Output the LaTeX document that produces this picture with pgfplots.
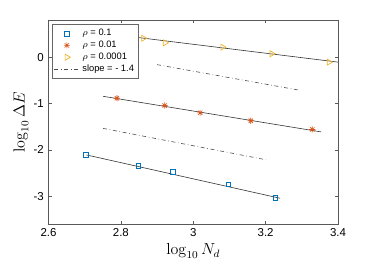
\documentclass[border=0pt]{standalone}
\usepackage{pgfplots}
\pgfplotsset{compat=1.18}
\usepackage[no-math]{fontspec}
\setmainfont{Liberation Sans}
\definecolor{mblue}{rgb}{0,0.447,0.741}
\definecolor{mred}{rgb}{0.85,0.325,0.098}
\definecolor{myel}{rgb}{0.929,0.694,0.125}
\pgfdeclareplotmark{mstar}{%
  \pgfpathmoveto{\pgfqpoint{-\pgfplotmarksize}{0pt}}\pgfpathlineto{\pgfqpoint{\pgfplotmarksize}{0pt}}%
  \pgfpathmoveto{\pgfqpoint{0pt}{-\pgfplotmarksize}}\pgfpathlineto{\pgfqpoint{0pt}{\pgfplotmarksize}}%
  \pgfpathmoveto{\pgfqpoint{-0.707\pgfplotmarksize}{-0.707\pgfplotmarksize}}\pgfpathlineto{\pgfqpoint{0.707\pgfplotmarksize}{0.707\pgfplotmarksize}}%
  \pgfpathmoveto{\pgfqpoint{-0.707\pgfplotmarksize}{0.707\pgfplotmarksize}}\pgfpathlineto{\pgfqpoint{0.707\pgfplotmarksize}{-0.707\pgfplotmarksize}}%
  \pgfusepathqstroke}
\begin{document}
\begin{tikzpicture}
\begin{axis}[
  at={(0pt,0pt)}, anchor=south west,
  scale only axis, width=217.1pt, height=153.2pt,
  xmin=2.6, xmax=3.4, ymin=-3.6, ymax=0.8,
  xtick={2.6,2.8,3,3.2,3.4}, ytick={-3,-2,-1,0},
  tick align=inside, major tick length=2.6pt,
  axis line style={draw=black!65, line width=0.5pt},
  tick style={black!65, line width=0.5pt},
  xticklabel style={font=\fontsize{8.6}{10}\selectfont},
  yticklabel style={font=\fontsize{8.6}{10}\selectfont},
  /pgf/number format/assume math mode=true,
  xticklabel={\pgfmathprintnumber[fixed,precision=1]{\tick}},
  yticklabel={\pgfmathprintnumber[fixed,precision=0]{\tick}},
  xlabel={$\log_{10} N_d$}, ylabel={$\log_{10} \Delta E$},
  label style={font=\fontsize{11.5}{13}\selectfont},
  xlabel style={yshift=2pt},
  ylabel style={yshift=-3pt},
  legend style={at={(0.011,0.979)}, anchor=north west, draw=black!60, line width=0.5pt,
    font=\fontsize{7}{8}\selectfont, fill=white, row sep=-1.5pt, inner sep=1.5pt},
  legend cell align=left,
  legend image code/.code={\draw[mark repeat=2,mark phase=2,#1] plot coordinates {(0cm,0cm) (0.33cm,0cm) (0.66cm,0cm)};},
]
% fit lines
\addplot[black!80, line width=0.45pt, forget plot] coordinates {(2.705,-2.107) (3.24,-3.04)};
\addplot[black!80, line width=0.45pt, forget plot] coordinates {(2.751,-0.844) (3.353,-1.61)};
\addplot[black!80, line width=0.45pt, forget plot] coordinates {(2.84,0.43) (3.405,-0.112)};
% data
\addplot[only marks, mark=square, mark size=1.8pt, color=mblue, mark options={line width=0.5pt}] coordinates {
 (2.703,-2.107) (2.848,-2.336) (2.944,-2.47) (3.097,-2.74) (3.227,-3.03)};
\addlegendentry{$\rho$ = 0.1}
\addplot[only marks, mark=mstar, mark size=2.3pt, color=mred, mark options={line width=0.5pt}] coordinates {
 (2.789,-0.886) (2.921,-1.043) (3.019,-1.20) (3.159,-1.37) (3.329,-1.557)};
\addlegendentry{$\rho$ = 0.01}
\addplot[only marks, mark=triangle, mark size=2.6pt, color=myel, mark options={rotate=-90, line width=0.5pt}] coordinates {
 (2.862,0.407) (2.922,0.308) (3.081,0.214) (3.217,0.073) (3.375,-0.107)};
\addlegendentry{$\rho$ = 0.0001}
% slope lines
\addplot[black!70, line width=0.45pt, dash dot] coordinates {(2.9,-0.162) (3.295,-0.715)};
\addlegendentry{slope = - 1.4}
\addplot[black!70, line width=0.45pt, dash dot, forget plot] coordinates {(2.751,-1.535) (3.201,-2.21)};
\end{axis}
\pgfresetboundingbox
\path (-36.4pt,-39.5pt) rectangle (244.1pt,168.2pt);
\end{tikzpicture}
\end{document}
